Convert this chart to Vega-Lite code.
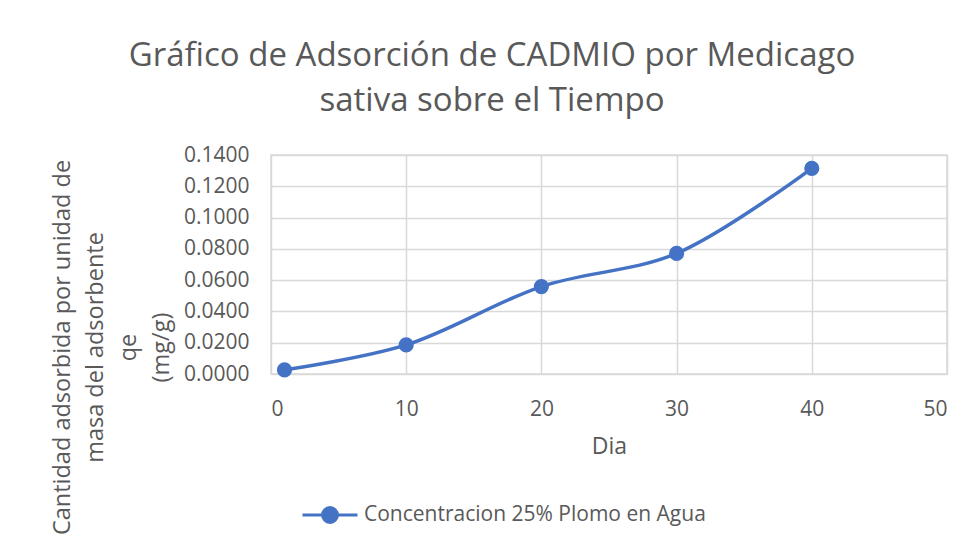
{
  "$schema": "https://vega.github.io/schema/vega-lite/v6.json",
  "autosize": "none",
  "width": 676,
  "height": 219,
  "padding": {"left": 271, "top": 155, "right": 25, "bottom": 173},
  "background": "white",
  "config": {
    "font": "Open Sans",
    "view": {"stroke": "#d9d9d9", "strokeWidth": 1.5},
    "axis": {"gridColor": "#d9d9d9", "gridWidth": 1.5, "domain": false, "ticks": false, "labelColor": "#595959", "titleColor": "#595959", "labelFont": "Open Sans", "titleFont": "Open Sans", "titleFontWeight": "normal"}
  },
  "title": {
    "text": ["Gráfico de Adsorción de CADMIO por Medicago", "sativa sobre el Tiempo"],
    "font": "Open Sans",
    "fontSize": 33,
    "fontWeight": "normal",
    "color": "#595959",
    "lineHeight": 45,
    "anchor": "middle",
    "frame": "group",
    "dx": -117,
    "offset": 26
  },
  "data": {
    "values": [
      {"dia": 1, "qe": 0.0026, "serie": "Concentracion 25% Plomo en Agua"},
      {"dia": 10, "qe": 0.0186, "serie": "Concentracion 25% Plomo en Agua"},
      {"dia": 20, "qe": 0.0559, "serie": "Concentracion 25% Plomo en Agua"},
      {"dia": 30, "qe": 0.0771, "serie": "Concentracion 25% Plomo en Agua"},
      {"dia": 40, "qe": 0.1315, "serie": "Concentracion 25% Plomo en Agua"}
    ]
  },
  "encoding": {
    "x": {
      "field": "dia", "type": "quantitative",
      "scale": {"domain": [0, 50], "nice": false},
      "axis": {"values": [0, 10, 20, 30, 40, 50], "title": "Dia", "labelFontSize": 21, "titleFontSize": 23, "labelPadding": 24, "titlePadding": 16}
    },
    "y": {
      "field": "qe", "type": "quantitative",
      "scale": {"domain": [0, 0.14], "nice": false},
      "axis": {
        "values": [0, 0.02, 0.04, 0.06, 0.08, 0.1, 0.12, 0.14],
        "format": ".4f",
        "labelFontSize": 21,
        "labelPadding": 22,
        "title": ["Cantidad adsorbida por unidad de", "masa del adsorbente", "qe", "(mg/g)"],
        "titleFontSize": 23.5,
        "titleLineHeight": 33,
        "titleAngle": -90,
        "titleAlign": "center",
        "titleBaseline": "middle",
        "titleX": -209,
        "titleY": 192
      }
    },
    "color": {
      "field": "serie", "type": "nominal",
      "scale": {"range": ["#4472C4"]},
      "legend": {
        "title": null,
        "orient": "none",
        "legendX": 30,
        "legendY": 331,
        "symbolType": "M -1 0 L 1 0 M 0.27 0 A 0.27 0.27 0 1 1 -0.27 0 A 0.27 0.27 0 1 1 0.27 0 Z",
        "symbolSize": 3025,
        "symbolStrokeWidth": 3,
        "symbolFillColor": "#4472C4",
        "symbolStrokeColor": "#4472C4",
        "labelFontSize": 21,
        "labelLimit": 600,
        "labelColor": "#595959",
        "labelFont": "Open Sans",
        "labelOffset": 5
      }
    }
  },
  "layer": [
    {"mark": {"type": "line", "interpolate": "catmull-rom", "strokeWidth": 3.5}},
    {"mark": {"type": "point", "filled": true, "opacity": 1, "size": 230, "shape": "circle"}}
  ]
}
